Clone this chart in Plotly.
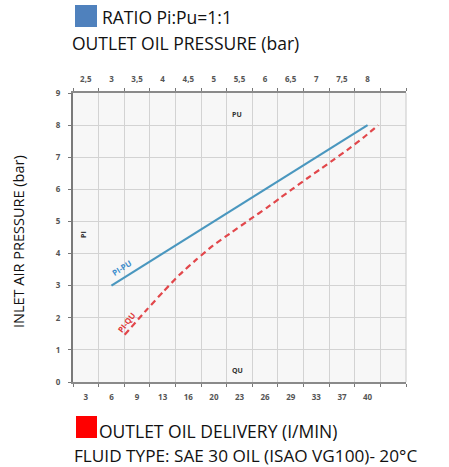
import plotly.graph_objects as go

# ---------------- data ----------------
# Pi-Pu line (ratio 1:1): outlet oil pressure (bar) vs inlet air pressure (bar)
pu_values = [3.0, 8.0]
pi_pu_values = [3.0, 8.0]

# Pi-Qu curve: outlet oil delivery (l/min) vs inlet air pressure (bar)
qu_values = [8.1, 11.0, 13.2, 15.3, 17.5, 19.7, 21.9, 24.6, 26.8, 28.5,
             30.2, 32.0, 34.0, 35.7, 37.7, 39.4, 41.4]
pi_qu_values = [1.47, 2.25, 2.82, 3.34, 3.81, 4.25, 4.62, 5.07, 5.43, 5.73,
                6.02, 6.33, 6.66, 6.95, 7.29, 7.6, 8.0]

# axis tick labels
pu_ticks = [2.5, 3, 3.5, 4, 4.5, 5, 5.5, 6, 6.5, 7, 7.5, 8]
pu_ticktext = ["2,5", "3", "3,5", "4", "4,5", "5", "5,5", "6", "6,5", "7", "7,5", "8"]
qu_ticktext = ["3", "6", "9", "13", "16", "20", "23", "26", "29", "33", "37", "40"]
pi_ticks = [0, 1, 2, 3, 4, 5, 6, 7, 8, 9]

# ---------------- scales ----------------
n_cells = 13                     # grid cells across the plot
pu_step = 0.5
pu_lo = pu_ticks[0] - pu_step / 2
pu_hi = pu_lo + n_cells * pu_step
pu_grid = [pu_lo + i * pu_step for i in range(n_cells + 1)]

qu_lo_lab, qu_hi_lab = float(qu_ticktext[0]), float(qu_ticktext[-1])
qu_step = (qu_hi_lab - qu_lo_lab) / (len(qu_ticktext) - 1)
qu_tickvals = [qu_lo_lab + i * qu_step for i in range(len(qu_ticktext))]
qu_lo = qu_lo_lab - qu_step / 2
qu_hi = qu_lo + n_cells * qu_step
qu_grid = [qu_lo + i * qu_step for i in range(n_cells + 1)]

# ---------------- layout geometry ----------------
W, H = 449, 467
L, R, T, B = 73, 43, 93, 85
PW, PH = W - L - R, H - T - B


def px(x):
    return (x - L) / PW


def py(y):
    return (H - B - y) / PH


BLUE = "#4a97bf"
RED = "#e2474b"
TXT = "#111111"
TICK = "#555555"
FONT = "Open Sans"
GRID = "#d3d3d3"
AXLINE = "#8a8a8a"

fig = go.Figure()

fig.add_trace(go.Scatter(
    x=qu_values, y=pi_qu_values, xaxis="x", yaxis="y", mode="lines",
    line=dict(color=RED, width=2.2, dash="6px,4px", shape="spline", smoothing=0.5),
    showlegend=False, hoverinfo="skip"))

fig.add_trace(go.Scatter(
    x=pu_values, y=pi_pu_values, xaxis="x2", yaxis="y", mode="lines",
    line=dict(color=BLUE, width=2.2),
    showlegend=False, hoverinfo="skip"))

# invisible carriers for the label-only axes
fig.add_trace(go.Scatter(x=[qu_lo], y=[0], xaxis="x3", yaxis="y", mode="markers",
                         marker=dict(opacity=0), showlegend=False, hoverinfo="skip"))
fig.add_trace(go.Scatter(x=[pu_lo], y=[0], xaxis="x4", yaxis="y", mode="markers",
                         marker=dict(opacity=0), showlegend=False, hoverinfo="skip"))

tickfont = dict(family="Open Sans", size=8, color=TICK, weight="bold")

fig.update_layout(
    width=W, height=H,
    margin=dict(l=L, r=R, t=T, b=B, pad=0),
    paper_bgcolor="white",
    plot_bgcolor="#f7f7f7",
    font=dict(family=FONT, color=TXT),
    showlegend=False,
    # bottom axis (flow) : grid lines + ticks at the cell borders
    xaxis=dict(
        range=[qu_lo, qu_hi], side="bottom", automargin=False,
        tickmode="array", tickvals=qu_grid, showticklabels=False,
        ticks="outside", ticklen=3, tickcolor="#777777",
        showgrid=True, gridcolor=GRID, gridwidth=1, zeroline=False,
        showline=True, linecolor=AXLINE, linewidth=1.5,
    ),
    # top axis (outlet pressure): ticks at the cell borders
    xaxis2=dict(
        range=[pu_lo, pu_hi], side="top", overlaying="x", automargin=False,
        tickmode="array", tickvals=pu_grid, showticklabels=False,
        ticks="outside", ticklen=3, tickcolor="#777777",
        showgrid=False, zeroline=False,
        showline=True, linecolor=AXLINE, linewidth=1.5,
    ),
    # bottom labels in the cell centres
    xaxis3=dict(
        range=[qu_lo, qu_hi], side="bottom", overlaying="x", automargin=False,
        tickmode="array", tickvals=qu_tickvals, ticktext=qu_ticktext,
        ticks="", showgrid=False, zeroline=False, showline=False,
        tickfont=tickfont, ticklabelstandoff=9,
    ),
    # top labels in the cell centres
    xaxis4=dict(
        range=[pu_lo, pu_hi], side="top", overlaying="x", automargin=False,
        tickmode="array", tickvals=pu_ticks, ticktext=pu_ticktext,
        ticks="", showgrid=False, zeroline=False, showline=False,
        tickfont=tickfont, ticklabelstandoff=8,
    ),
    yaxis=dict(
        range=[0, 9], tickmode="array", tickvals=pi_ticks, automargin=False,
        ticks="outside", ticklen=3, tickcolor="#777777",
        showgrid=True, gridcolor=GRID, gridwidth=1, zeroline=False,
        tickfont=tickfont, ticklabelstandoff=6,
        showline=True, linecolor="#7a7a7a", linewidth=2,
    ),
)

# right border of the grid
fig.add_shape(type="line", xref="paper", yref="paper", x0=1, x1=1, y0=0, y1=1,
              line=dict(color="#c8c8c8", width=1))

# legend-like squares
fig.add_shape(type="rect", xref="paper", yref="paper",
              x0=px(75), x1=px(97), y0=py(27), y1=py(5),
              fillcolor="#4f81bd", line=dict(width=0))
fig.add_shape(type="rect", xref="paper", yref="paper",
              x0=px(76), x1=px(97), y0=py(438), y1=py(416),
              fillcolor="#ff0000", line=dict(width=0))

ann = []


def text(t, x, y, size, xanchor="left", angle=0, color=TXT, family=FONT, weight="normal"):
    ann.append(dict(text=t, xref="paper", yref="paper", x=px(x), y=py(y),
                    xanchor=xanchor, yanchor="middle", showarrow=False, borderpad=0,
                    textangle=angle, font=dict(size=size, color=color,
                                               family=family, weight=weight)))


text("RATIO Pi:Pu=1:1", 101, 17, 17.5)
text("OUTLET OIL PRESSURE (bar)", 71, 43, 17.5)
text("OUTLET OIL DELIVERY (I/MIN)", 98, 431, 17.5)
text("FLUID TYPE: SAE 30 OIL (ISAO VG100)- 20°C", 73, 455, 17.2)
text("INLET AIR PRESSURE (bar)", 18, 242, 14.5, xanchor="center", angle=-90)

# small axis labels inside the grid
text("PU", 237, 115, 7, xanchor="center", color="#333333", family="Open Sans", weight="bold")
text("QU", 237, 370, 7, xanchor="center", color="#333333", family="Open Sans", weight="bold")
text("PI", 83, 235, 7, xanchor="center", angle=-90, color="#333333", family="Open Sans", weight="bold")

fig.update_layout(annotations=ann)

# curve labels
fig.add_annotation(text="PI-PU", xref="x2", yref="y", x=pu_values[0] + 0.2, y=pi_pu_values[0] + 0.56,
                   showarrow=False, textangle=-32,
                   font=dict(size=8, color="#3b8ccc", family="Open Sans", weight="bold"))
fig.add_annotation(text="PI-QU", xref="x", yref="y", x=qu_values[0] + 0.3, y=pi_qu_values[0] + 0.4,
                   showarrow=False, textangle=-52,
                   font=dict(size=8, color="#e03a3a", family="Open Sans", weight="bold"))

fig.write_html("out.html", config={"displayModeBar": False},
               post_script="document.body.style.margin='0';")
